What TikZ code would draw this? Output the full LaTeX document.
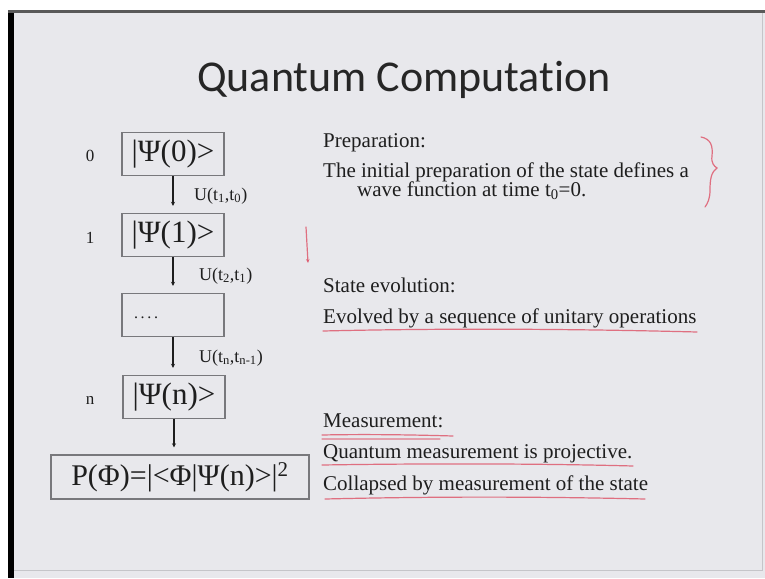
\documentclass[tikz,border=0pt]{standalone}
\usepackage{fontspec}
\setmainfont{Liberation Serif}
\newfontfamily\titlefont{Carlito}
\usetikzlibrary{arrows.meta}
\definecolor{slidebg}{RGB}{232,232,236}
\definecolor{boxgray}{RGB}{120,120,124}
\definecolor{penred}{RGB}{222,90,110}
\definecolor{inkc}{RGB}{30,30,30}
\begin{document}
\begin{tikzpicture}[x=1pt,y=-1pt,
  statebox/.style={draw=boxgray, line width=1.4pt, minimum width=102pt, minimum height=43pt, inner sep=0pt, text=inkc, font=\fontsize{31}{31}\selectfont},
  flowarr/.style={-{Stealth[length=4pt,width=4pt]}, line width=1.3pt, draw=inkc, shorten >=7pt},
  ulabel/.style={anchor=west, text=inkc, inner sep=0pt, font=\fontsize{18}{18}\selectfont},
  idx/.style={text=inkc, inner sep=0pt, font=\fontsize{17}{17}\selectfont},
  bodytext/.style={anchor=base west, text=inkc, inner sep=0pt, font=\fontsize{21}{21}\selectfont},
  pen/.style={draw=penred, line width=1.2pt, line cap=round, opacity=0.85}
]
\useasboundingbox (0,0) rectangle (765,578);
\fill[white] (0,0) rectangle (765,578);
\fill[slidebg] (9,10) rectangle (765,578);
\draw[slidebg!85!black, line width=0.6pt] (14,570) -- (762,570) -- (762,13);
\fill[black] (8,10) rectangle (14,578);
\fill[black!65] (8,10) rectangle (765,13);

% title
\node[text=black!85, inner sep=0pt, font=\titlefont\fontsize{44}{44}\selectfont] (title) at (404,80) {Quantum Computat\kern0pt ion};

% state boxes
\node[statebox] (b0) at (173,154) {|Ψ(0)>};
\node[statebox] (b1) at (173,235) {|Ψ(1)>};
\node[statebox] (bd) at (173,315) {\makebox[96pt][l]{\hspace{9pt}\raisebox{-7pt}{\fontsize{16}{16}\selectfont .\,.\,.\,.}}};
\node[statebox] (bn) at (174,397) {|Ψ(n)>};
\node[statebox, minimum width=258pt, minimum height=44pt, font=\fontsize{30}{30}\selectfont] (bp) at (180,477) {P(Φ)=|<Φ|Ψ(n)>|\textsuperscript{2}};

% indices
\node[idx] (i0) at (90,156) {0};
\node[idx] (i1) at (90,238) {1};
\node[idx] (in) at (90,400) {n};

% arrows
\draw[flowarr] (b0.south) -- (b0.south |- b1.north);
\draw[flowarr] (b1.south) -- (b1.south |- bd.north);
\draw[flowarr] (bd.south) -- (bd.south |- bn.north);
\draw[flowarr] (bn.south) -- (bn.south |- bp.north);

% unitary labels
\node[ulabel] (u1) at (194,196) {U(t\textsubscript{1},t\textsubscript{0})};
\node[ulabel] (u2) at (199,276) {U(t\textsubscript{2},t\textsubscript{1})};
\node[ulabel] (u3) at (199,358) {U(t\textsubscript{n},t\textsubscript{n-1})};

% right-hand text
\node[bodytext] (prep) at (323,147) {Preparation:};
\node[bodytext] (prep1) at (323,177) {The initial preparation of the state defines a};
\node[bodytext] (prep2) at (357,196) {wave function at time t\textsubscript{0}=0.};
\node[bodytext] (evo) at (323,292) {State evolution:};
\node[bodytext] (evo1) at (323,323) {Evolved by a sequence of unitary operations};
\node[bodytext] (meas) at (323,427) {Measurement:};
\node[bodytext] (meas1) at (323,458) {Quantum measurement is projective.};
\node[bodytext] (meas2) at (323,490) {Collapsed by measurement of the state};

% red handwriting
\draw[pen] (701,137) .. controls (711,139) and (713,146) .. (712,156)
  .. controls (711,163) and (714,166) .. (717,168)
  .. controls (711,172) and (710,180) .. (710,190)
  .. controls (710,198) and (708,203) .. (705,207);
\draw[pen, -{Stealth[length=4pt,width=3.5pt]}] (306,227) -- (308,263);
\draw[pen] (323,331) .. controls (450,328) and (580,329) .. (697,332);
\draw[pen] (322,435) .. controls (370,434) and (420,435) .. (453,436);
\draw[pen, opacity=0.5] (322,439) -- (440,439);
\draw[pen] (322,465) .. controls (450,463) and (560,464) .. (633,466);
\draw[pen] (325,499) .. controls (450,496) and (560,497) .. (645,499);
\end{tikzpicture}
\end{document}
